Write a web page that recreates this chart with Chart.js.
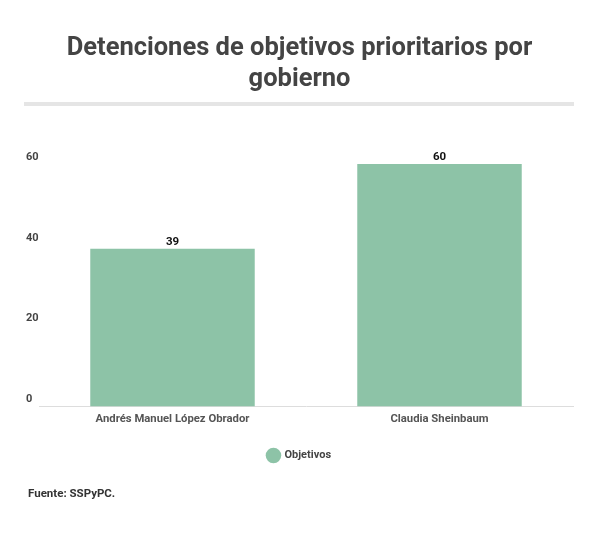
<!DOCTYPE html>
<html>
<head>
<meta charset="utf-8">
<script src="https://cdn.jsdelivr.net/npm/chart.js@4.4.0/dist/chart.umd.min.js"></script>
<style>
  html, body { margin: 0; padding: 0; background: #fff; }
  #wrap { position: relative; width: 600px; height: 534px; }
  #c { position: absolute; left: 0; top: 0; }
  #foot { position: absolute; left: 28px; top: 486px; font: bold 11.5px Roboto, sans-serif; color: #333; }
</style>
</head>
<body>
<div id="wrap">
  <canvas id="c" width="600" height="534"></canvas>
  <div id="foot">Fuente: SSPyPC.</div>
</div>
<script>
const titleLines = ["Detenciones de objetivos prioritarios por", "gobierno"];
const categories = ["Andrés Manuel López Obrador", "Claudia Sheinbaum"];
const seriesName = "Objetivos";
const values = [39, 60];
const yTicks = [0, 20, 40, 60];

const barColor = "#8DC3A7";

const rulePlugin = {
  id: "rule",
  afterDraw(chart) {
    const ctx = chart.ctx;
    ctx.save();
    ctx.fillStyle = "#e5e5e5";
    ctx.fillRect(24, 102, 550, 4);
    ctx.restore();
  }
};

const valueLabels = {
  id: "valueLabels",
  afterDatasetsDraw(chart) {
    const ctx = chart.ctx;
    const meta = chart.getDatasetMeta(0);
    ctx.save();
    ctx.font = "bold 11.5px Roboto, sans-serif";
    ctx.fillStyle = "#111";
    ctx.textAlign = "center";
    ctx.textBaseline = "bottom";
    meta.data.forEach((bar, i) => {
      ctx.fillText(String(values[i]), bar.x, bar.y - 1);
    });
    ctx.restore();
  }
};

new Chart(document.getElementById("c"), {
  type: "bar",
  data: {
    labels: categories,
    datasets: [{
      label: seriesName,
      data: values,
      backgroundColor: barColor,
      borderWidth: 0,
      barPercentage: 0.77,
      categoryPercentage: 0.8
    }]
  },
  options: {
    responsive: false,
    animation: false,
    layout: { padding: { top: 33, left: 26, right: 27, bottom: 63 } },
    plugins: {
      title: {
        display: true,
        text: titleLines,
        color: "#444",
        font: { family: "Roboto", size: 25.5, weight: "bold", lineHeight: 1.216 },
        padding: { top: 0, bottom: 69 }
      },
      legend: {
        display: true,
        position: "bottom",
        labels: {
          usePointStyle: true,
          pointStyle: "circle",
          boxWidth: 14,
          boxHeight: 14,
          color: "#444",
          font: { family: "Roboto", size: 11, weight: "bold" },
          padding: 10
        }
      },
      tooltip: { enabled: false }
    },
    scales: {
      x: {
        afterFit(scale) { scale.height += 8; },
        grid: { display: false, drawTicks: false },
        border: { display: true, color: "#dddddd", width: 1 },
        ticks: {
          color: "#555",
          font: { family: "Roboto", size: 11.3, weight: "bold" },
          padding: 6
        }
      },
      y: {
        min: 0,
        max: 60,
        afterBuildTicks(scale) { scale.ticks = yTicks.map(v => ({ value: v })); },
        afterFit(scale) { scale.width = 13; },
        grid: { display: false, drawTicks: false },
        border: { display: false },
        ticks: {
          color: "#444",
          font: { family: "Roboto", size: 11, weight: "bold" },
          crossAlign: "far",
          padding: 0,
          labelOffset: -7
        }
      }
    }
  },
  plugins: [rulePlugin, valueLabels]
});
</script>
</body>
</html>
